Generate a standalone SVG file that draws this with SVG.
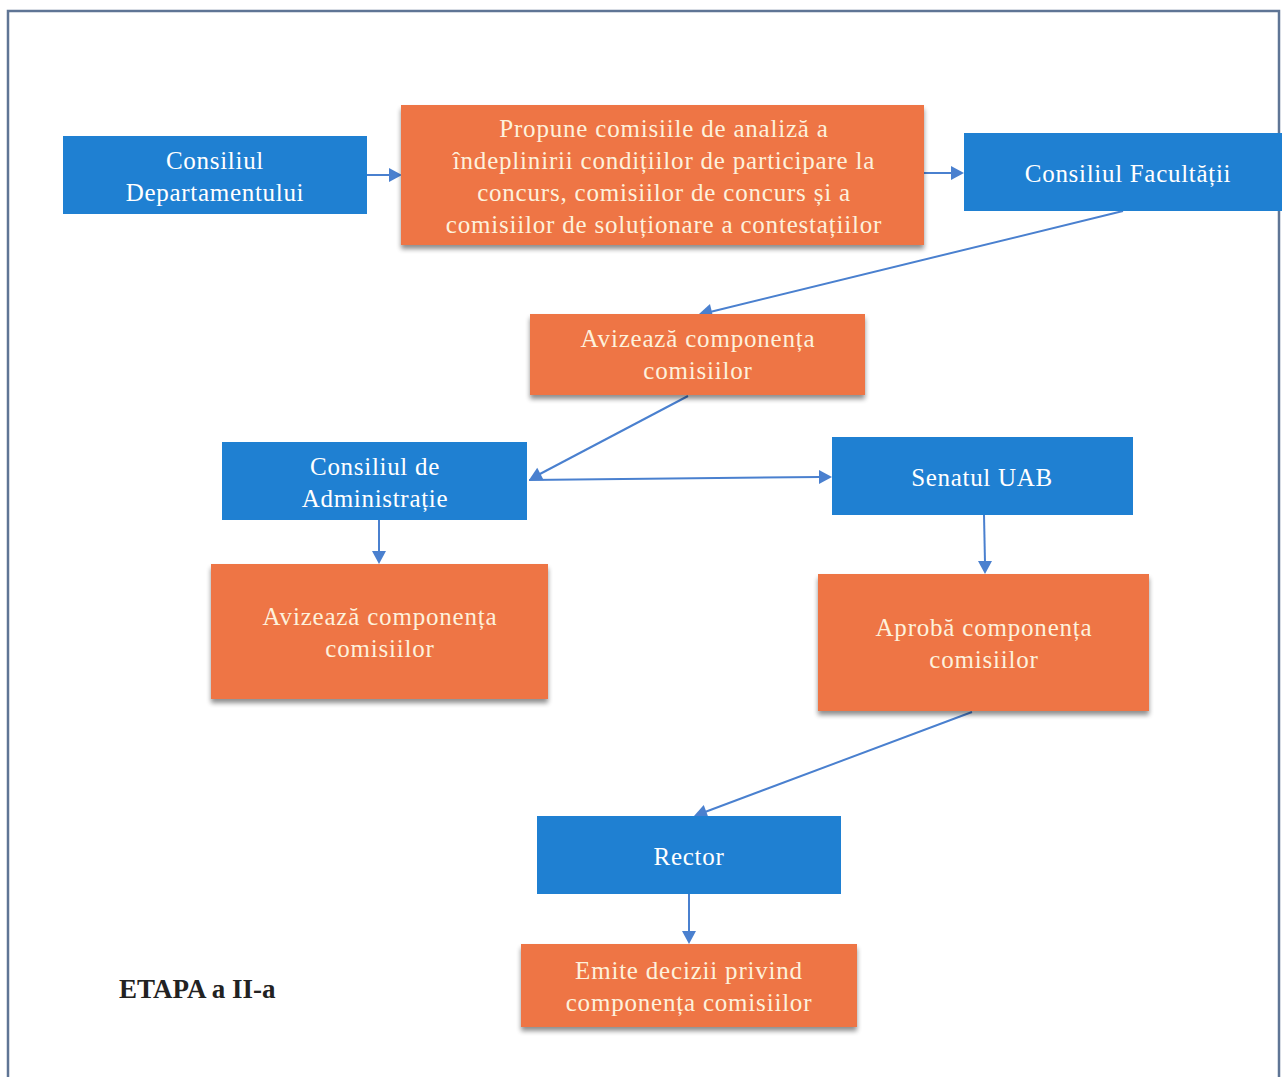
<svg xmlns="http://www.w3.org/2000/svg" width="1282" height="1077" viewBox="0 0 1282 1077">
<defs>
<style>
.blue{fill:#1f80d2;}
.orange{fill:#ee7444;}
.bt{font-family:'Liberation Serif',Tinos,'Times New Roman','DejaVu Serif',serif;font-size:25px;fill:#ffffff;text-anchor:middle;letter-spacing:0.7px;}
.ot{font-family:'Liberation Serif',Tinos,'Times New Roman','DejaVu Serif',serif;font-size:25px;fill:#fdf1dc;text-anchor:middle;letter-spacing:0.8px;}
.conn{stroke:#4a80cf;stroke-width:2;fill:none;}
.ah{fill:#4a80cf;}
</style>
<filter id="sh" x="-5%" y="-10%" width="110%" height="125%">
<feGaussianBlur in="SourceAlpha" stdDeviation="2.5"/>
<feOffset dx="0" dy="4" result="b"/>
<feComponentTransfer><feFuncA type="linear" slope="0.45"/></feComponentTransfer>
<feMerge><feMergeNode/><feMergeNode in="SourceGraphic"/></feMerge>
</filter>
<path id="tri" d="M0,0 L-13,-7 L-13,7 z"/>
</defs>
<rect x="0" y="0" width="1282" height="1077" fill="#ffffff"/>
<rect id="frame" x="8" y="11" width="1271" height="1068" fill="none" stroke="#5f7595" stroke-width="2.5"/>

<g id="connectors">
<line class="conn" x1="367" y1="175" x2="392" y2="175"/>
<use href="#tri" class="ah" transform="translate(402,175)"/>
<line class="conn" x1="924" y1="173" x2="952" y2="173"/>
<use href="#tri" class="ah" transform="translate(964,173)"/>
<line class="conn" x1="1123" y1="211" x2="710" y2="312"/>
<use href="#tri" class="ah" transform="translate(699,314) rotate(166.3)"/>
<line class="conn" x1="688" y1="396" x2="538" y2="475"/>
<use href="#tri" class="ah" transform="translate(529,480) rotate(152.2)"/>
<line class="conn" x1="529" y1="480" x2="820" y2="477"/>
<use href="#tri" class="ah" transform="translate(832,477)"/>
<line class="conn" x1="379" y1="520" x2="379" y2="553"/>
<use href="#tri" class="ah" transform="translate(379,564) rotate(90)"/>
<line class="conn" x1="984" y1="515" x2="985" y2="563"/>
<use href="#tri" class="ah" transform="translate(985,574) rotate(90)"/>
<line class="conn" x1="972" y1="712" x2="705" y2="812"/>
<use href="#tri" class="ah" transform="translate(694,816) rotate(159.5)"/>
<line class="conn" x1="689" y1="894" x2="689" y2="933"/>
<use href="#tri" class="ah" transform="translate(689,944) rotate(90)"/>
</g>

<g id="n-departament">
<rect class="blue" x="63" y="136" width="304" height="78"/>
<text class="bt" x="215" y="169">Consiliul</text>
<text class="bt" x="215" y="201">Departamentului</text>
</g>

<g id="n-propune">
<rect class="orange" x="401" y="105" width="523" height="140" filter="url(#sh)"/>
<text class="ot" x="664" y="137">Propune comisiile de analiză a</text>
<text class="ot" x="664" y="169">îndeplinirii condițiilor de participare la</text>
<text class="ot" x="664" y="201">concurs, comisiilor de concurs și a</text>
<text class="ot" x="664" y="233">comisiilor de soluționare a contestațiilor</text>
</g>

<g id="n-facultate">
<rect class="blue" x="964" y="133" width="320" height="78"/>
<text class="bt" x="1128" y="182">Consiliul Facultății</text>
</g>

<g id="n-avizeaza1">
<rect class="orange" x="530" y="314" width="335" height="81" filter="url(#sh)"/>
<text class="ot" x="698" y="347">Avizează componența</text>
<text class="ot" x="698" y="379">comisiilor</text>
</g>

<g id="n-administratie">
<rect class="blue" x="222" y="442" width="305" height="78"/>
<text class="bt" x="375" y="475">Consiliul de</text>
<text class="bt" x="375" y="507">Administrație</text>
</g>

<g id="n-senat">
<rect class="blue" x="832" y="437" width="301" height="78"/>
<text class="bt" x="982" y="486">Senatul UAB</text>
</g>

<g id="n-avizeaza2">
<rect class="orange" x="211" y="564" width="337" height="135" filter="url(#sh)"/>
<text class="ot" x="380" y="625">Avizează componența</text>
<text class="ot" x="380" y="657">comisiilor</text>
</g>

<g id="n-aproba">
<rect class="orange" x="818" y="574" width="331" height="137" filter="url(#sh)"/>
<text class="ot" x="984" y="636">Aprobă componența</text>
<text class="ot" x="984" y="668">comisiilor</text>
</g>

<g id="n-rector">
<rect class="blue" x="537" y="816" width="304" height="78"/>
<text class="bt" x="689" y="865">Rector</text>
</g>

<g id="n-emite">
<rect class="orange" x="521" y="944" width="336" height="83" filter="url(#sh)"/>
<text class="ot" x="689" y="979">Emite decizii privind</text>
<text class="ot" x="689" y="1011">componența comisiilor</text>
</g>

<text x="119" y="998" font-family="'Liberation Serif',Tinos,'Times New Roman',serif" font-size="27" font-weight="bold" fill="#222222">ETAPA a II-a</text>
</svg>
